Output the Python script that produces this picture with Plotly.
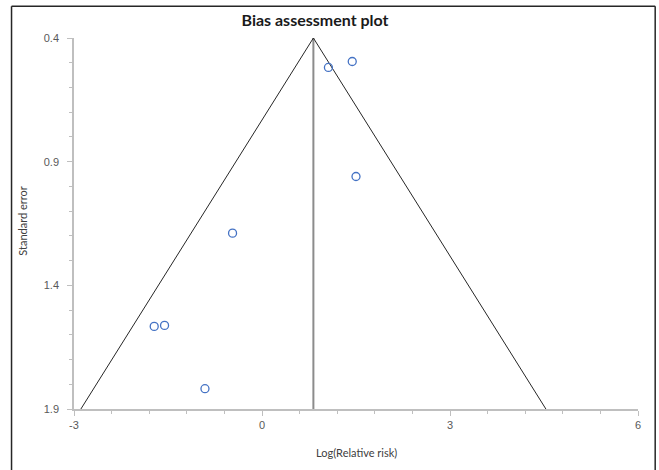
import plotly.graph_objects as go

# Study estimates
log_rr = [1.06, 1.44, 1.50, -0.47, -1.72, -1.555, -0.91]
std_err = [0.519, 0.495, 0.960, 1.189, 1.566, 1.562, 1.818]

# Funnel (pooled estimate and limits)
pooled = 0.82
funnel_x = [-2.89, 0.82, 4.53]
funnel_y = [1.9, 0.4, 1.9]
center_y = [0.4, 1.9]

x_ticks = [-3, 0, 3, 6]
x_tick_text = ["-3", "0", "3", "6"]
y_ticks = [0.4, 0.9, 1.4, 1.9]

fig = go.Figure()
fig.add_trace(go.Scatter(x=[pooled, pooled], y=center_y, mode="lines",
                         line=dict(color="#8c8c8c", width=2), hoverinfo="skip"))
fig.add_trace(go.Scatter(x=funnel_x, y=funnel_y, mode="lines",
                         line=dict(color="#262626", width=1), hoverinfo="skip"))
fig.add_trace(go.Scatter(x=log_rr, y=std_err, mode="markers",
                         marker=dict(symbol="circle-open", size=8,
                                     color="#4472C4", line=dict(width=1.3))))

L, R, T, B = 74, 20.7, 38.3, 60.7
W, H = 659, 470
pw, ph = W - L - R, H - T - B

def px2paper_x(px):
    return (px - L) / pw

def px2paper_y(py):
    return (H - B - py) / ph

bx0, bx1 = px2paper_x(11.5), px2paper_x(655.5)
by0, by1 = px2paper_y(480), px2paper_y(6.5)
border = dict(color="#262626", width=1.5)

fig.update_layout(
    width=W, height=H,
    margin=dict(l=L, r=R, t=T, b=B, autoexpand=False),
    paper_bgcolor="white", plot_bgcolor="white",
    showlegend=False,
    font=dict(family="Liberation Sans, Arial", size=11, color="#595959"),
    title=dict(text="<b>Bias assessment plot</b>", x=315 / W, xref="container",
               xanchor="center", y=1 - 20 / H, yref="container", yanchor="middle",
               font=dict(family="Lato, Open Sans", size=16, color="#1a1a1a")),
    xaxis=dict(range=[-3, 6], tickvals=x_ticks, ticktext=x_tick_text, showgrid=False,
               zeroline=False, showline=True, linecolor="#bfbfbf", linewidth=1.5,
               ticks="outside", ticklen=5, tickcolor="#bfbfbf",
               minor=dict(dtick=0.6, tick0=-3, ticks="outside", ticklen=3, tickcolor="#bfbfbf"),
               automargin=False),
    yaxis=dict(range=[1.9, 0.4], tickvals=y_ticks, tickformat=".1f", showgrid=False,
               zeroline=False, showline=True, linecolor="#bfbfbf", linewidth=1.5,
               ticks="outside", ticklen=5, tickcolor="#bfbfbf",
               minor=dict(dtick=0.1, tick0=0.4, ticks="outside", ticklen=3, tickcolor="#bfbfbf"),
               ticklabelstandoff=6, automargin=False),
    annotations=[
        dict(text="Log(Relative risk)", xref="paper", yref="paper",
             x=0.5, y=px2paper_y(452.7), xanchor="center", yanchor="middle",
             showarrow=False, font=dict(family="Lato, Open Sans", size=11, color="#404040")),
        dict(text="Standard error", xref="paper", yref="paper", textangle=-90,
             x=px2paper_x(23), y=px2paper_y(221), xanchor="center", yanchor="middle",
             showarrow=False, font=dict(family="Lato, Open Sans", size=11, color="#404040")),
    ],
    shapes=[
        dict(type="line", xref="paper", yref="paper", x0=bx0, x1=bx1, y0=by1, y1=by1,
             line=border, layer="above"),
        dict(type="line", xref="paper", yref="paper", x0=bx0, x1=bx0, y0=by0, y1=by1,
             line=border, layer="above"),
        dict(type="line", xref="paper", yref="paper", x0=bx1, x1=bx1, y0=by0, y1=by1,
             line=border, layer="above"),
    ],
)

fig.write_html("out.html", config={"displayModeBar": False},
               post_script="document.body.style.margin='0px';document.body.style.overflow='hidden';")
